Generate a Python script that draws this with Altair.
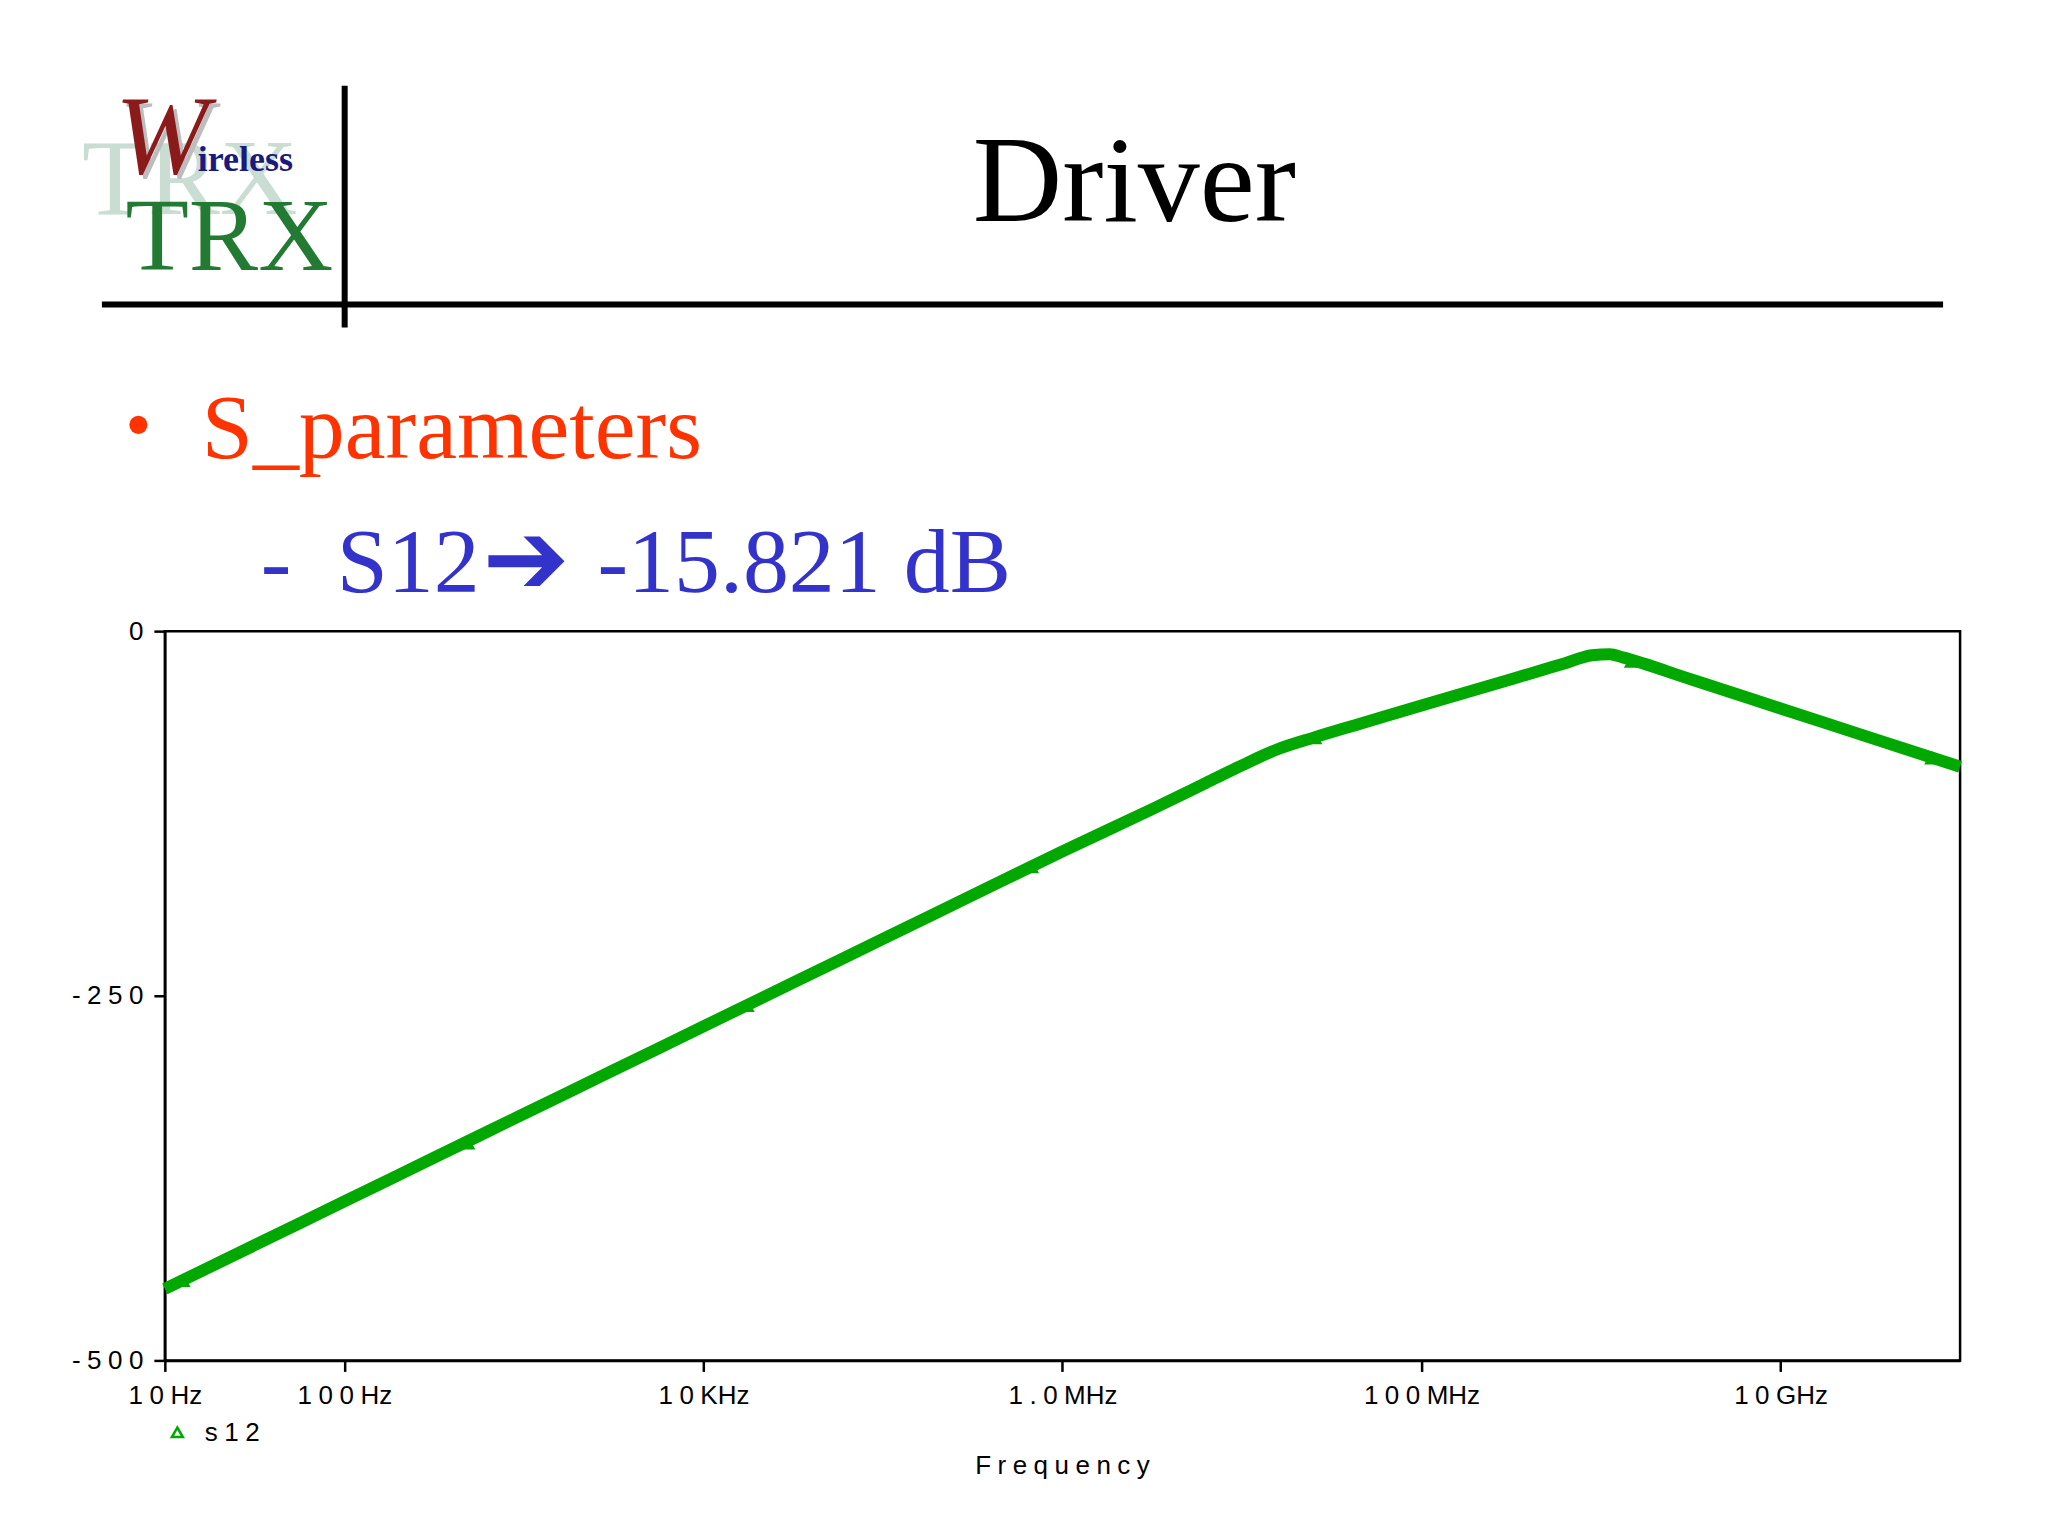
import altair as alt
import pandas as pd

# ---- data ----
freq_hz = [10, 31.6, 100, 316, 1000, 3160, 1e4, 3.16e4, 1e5, 3.16e5, 1e6, 3.16e6,
           6.31e6, 1e7, 1.58e7, 2.51e7, 5.01e7, 1e8, 3.16e8, 6.31e8, 8.91e8,
           1.12e9, 1.32e9, 3.16e9, 1e10, 3.16e10, 1e11]
s12_db = [-451, -421, -391, -361, -331, -301, -271, -241, -211, -181, -151, -122,
          -104, -92, -81, -73, -62, -51, -33, -22, -16.5,
          -15.8, -18, -33, -53, -73, -93]

marker_hz = [12.6, 486, 1.75e4, 6.71e5, 2.54e7, 1.48e9, 6.97e10]
marker_db = [-445, -350.8, -256.5, -161.4, -73, -20.5, -86.8]

x_tick_values = [10, 100, 1e4, 1e6, 1e8, 1e10]
x_tick_labels = ["1 0 Hz", "1 0 0 Hz", "1 0 KHz", "1 . 0 MHz", "1 0 0 MHz", "1 0 GHz"]
y_tick_values = [0, -250, -500]
y_tick_labels = ["0", "- 2 5 0", "- 5 0 0"]

SP = "\u2005"
GREEN = "#00a800"
SANS = "Liberation Sans"
SERIF = "Liberation Serif"
LBL = 26


def spaced(s):
    return s.replace(" ", SP)


def x_label_expr():
    expr = "''"
    for v, lab in reversed(list(zip(x_tick_values, x_tick_labels))):
        expr = f"datum.value < {v * 3} ? '{spaced(lab)}' : ({expr})"
    return expr


def y_label_expr():
    expr = "''"
    for v, lab in reversed(list(zip(y_tick_values, y_tick_labels))):
        expr = f"datum.value > {v - 100} ? '{spaced(lab)}' : ({expr})"
    return expr


df = pd.DataFrame({"freq": freq_hz, "s12": s12_db})
mk = pd.DataFrame({"freq": marker_hz, "s12": marker_db})
one = pd.DataFrame({"k": [0]})

xs = alt.Scale(type="log", domain=[10, 1e11], nice=False)
ys = alt.Scale(domain=[-500, 0], nice=False)

x_axis = alt.Axis(values=x_tick_values, labelExpr=x_label_expr(), title=None, grid=False,
                  tickSize=11, tickWidth=2.5, tickColor="black", domainWidth=2.5,
                  domainColor="black", labelFontSize=LBL, labelFont=SANS, labelColor="black",
                  labelPadding=11, labelFlush=False, labelOverlap=False)
y_axis = alt.Axis(values=y_tick_values, labelExpr=y_label_expr(), title=None, grid=False,
                  tickSize=11, tickWidth=2.5, tickColor="black", domainWidth=2.5,
                  domainColor="black", labelFontSize=LBL, labelFont=SANS, labelColor="black",
                  labelPadding=11, labelFlush=False, labelOverlap=False)

line = alt.Chart(df).mark_line(color=GREEN, strokeWidth=12, interpolate="monotone").encode(
    x=alt.X("freq:Q", scale=xs, axis=x_axis),
    y=alt.Y("s12:Q", scale=ys, axis=y_axis),
)
marks = alt.Chart(mk).mark_point(shape="triangle-up", filled=True, size=240,
                                 color=GREEN, opacity=1).encode(
    x=alt.X("freq:Q", scale=xs), y=alt.Y("s12:Q", scale=ys))


def txt(t, x, y, size, color, font=SERIF, align="left", baseline="alphabetic", **kw):
    return alt.Chart(one).mark_text(text=t, fontSize=size, font=font, color=color,
                                    align=align, baseline=baseline, **kw).encode(
        x=alt.value(x), y=alt.value(y))


decor = [
    # logo
    txt("TRX", 25, -418, 108, "#c9ddd3", align="center"),
    txt("W", -46, -455, 112, "#bdbdbd", fontStyle="italic"),
    txt("W", -50, -459, 112, "#8b1a1a", fontStyle="italic"),
    txt("ireless", 33, -461, 36, "#1a1a7e", fontWeight="bold"),
    txt("TRX", 64.5, -361, 104, "#237a33", align="center"),
    # header lines
    alt.Chart(one).mark_rule(color="black", strokeWidth=6).encode(
        x=alt.value(-63), x2=alt.value(1780), y=alt.value(-327)),
    alt.Chart(one).mark_rule(color="black", strokeWidth=6).encode(
        x=alt.value(180), y=alt.value(-546), y2=alt.value(-304)),
    # title
    txt("Driver", 970.5, -411, 124, "black", align="center"),
    # bullets
    alt.Chart(one).mark_point(shape="circle", filled=True, size=330, color="#ff3300",
                              opacity=1).encode(x=alt.value(-26.5), y=alt.value(-206.5)),
    txt("S_parameters", 37, -173, 92, "#ff3300"),
    txt("-", 96, -39, 92, "#3333cc"),
    txt("S12", 172, -39, 92, "#3333cc"),
    txt("\u2794", 318, -68, 104, "#3333cc", font="DejaVu Sans", baseline="middle"),
    txt("-15.821 dB", 433, -39, 92, "#3333cc"),
    # axis title and legend
    txt(spaced("F r e q u e n c y"), 898.5, 844, LBL, "black", font=SANS, align="center"),
    alt.Chart(one).mark_point(shape="triangle-up", filled=False, size=120, strokeWidth=2.5,
                              color=GREEN, opacity=1).encode(x=alt.value(12.5), y=alt.value(802)),
    txt(spaced("s 1 2"), 40, 811, LBL, "black", font=SANS),
]

chart = alt.layer(line, marks, *decor).properties(
    width=1797, height=730,
    padding={"left": 157, "top": 623, "right": 80, "bottom": 160},
    autosize=alt.AutoSizeParams(type="none"),
    background="white",
).configure_view(stroke="black", strokeWidth=2.5)

chart.save("out.html", embed_options={"renderer": "svg", "actions": False})
